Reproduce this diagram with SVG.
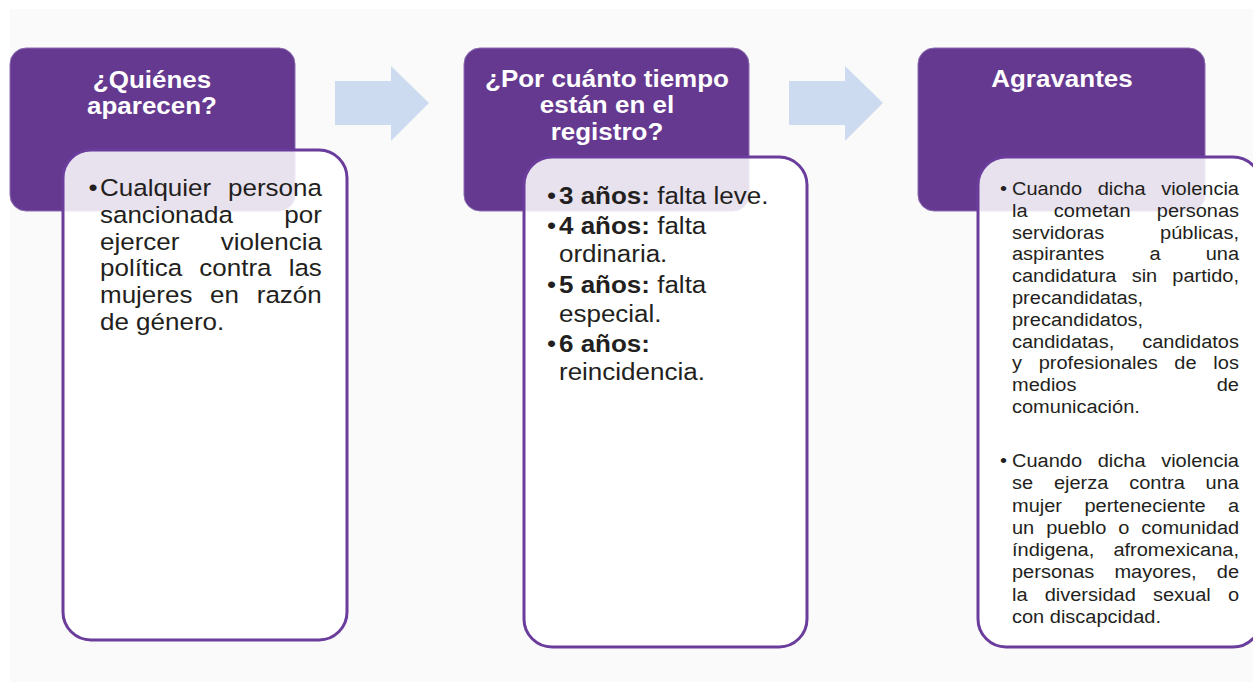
<svg xmlns="http://www.w3.org/2000/svg" width="1253" height="682" viewBox="0 0 1253 682">
<style>
.bg{fill:#fafafa}
.head{fill:#65398f;stroke:#8c6db2;stroke-width:1}
.card{fill:#ffffff;fill-opacity:0.85;stroke:#6a3d9c;stroke-width:3}
.title{font-family:"Liberation Sans",Arial,sans-serif;font-weight:bold;font-size:23px;fill:#ffffff;text-anchor:middle}
.body{font-family:"Liberation Sans",Arial,sans-serif;font-size:23.5px;fill:#231f20}
.body2{font-family:"Liberation Sans",Arial,sans-serif;font-size:24.5px;fill:#231f20}
.small{font-family:"Liberation Sans",Arial,sans-serif;font-size:19px;fill:#231f20}
.b{font-weight:bold}
.arrow{fill:#cddbf0}
</style>
<rect class="bg" x="10" y="9" width="1243" height="673"/>

<g id="connectors">
<polygon class="arrow" points="335,81 391,81 391,66 429,103 391,141 391,125 335,125"/>
<polygon class="arrow" points="789,81 845,81 845,66 883,103 845,141 845,125 789,125"/>
</g>

<g id="node-quienes">
<rect class="head" x="10" y="48" width="285" height="163" rx="16"/>
<g transform="matrix(1.13,0,0,1,-19.76,0)">
<text class="title" x="152" y="88">¿Quiénes</text>
<text class="title" x="152" y="114">aparecen?</text>
</g>
<rect class="card" x="63" y="150" width="284" height="490" rx="28"/>
<g transform="matrix(1.106,0,0,1,-10.6,0)">
<text class="body" x="89.6" y="196" style="word-spacing:8.7px">•<tspan x="100">Cualquier persona</tspan></text>
<text class="body" x="100" y="222.8" style="word-spacing:40px">sancionada por</text>
<text class="body" x="100" y="249.6" style="word-spacing:30.9px">ejercer violencia</text>
<text class="body" x="100" y="276.4" style="word-spacing:8.9px">política contra las</text>
<text class="body" x="100" y="303.2" style="word-spacing:9.5px">mujeres en razón</text>
<text class="body" x="100" y="330">de género.</text>
</g>
</g>

<g id="node-tiempo">
<rect class="head" x="464" y="48" width="285" height="163" rx="16"/>
<g transform="matrix(1.13,0,0,1,-78.91,0)">
<text class="title" x="607" y="87">¿Por cuánto tiempo</text>
<text class="title" x="607" y="113.5">están en el</text>
<text class="title" x="607" y="140">registro?</text>
</g>
<rect class="card" x="524" y="157" width="283" height="490" rx="28"/>
<g transform="matrix(1.061,0,0,1,-34.1,0)">
<text class="body2" x="547.7" y="204">•<tspan x="559" class="b">3 años:</tspan> falta leve.</text>
<text class="body2" x="547.7" y="234">•<tspan x="559" class="b">4 años:</tspan> falta</text>
<text class="body2" x="559" y="262">ordinaria.</text>
<text class="body2" x="547.7" y="293">•<tspan x="559" class="b">5 años:</tspan> falta</text>
<text class="body2" x="559" y="322">especial.</text>
<text class="body2" x="547.7" y="352">•<tspan x="559" class="b">6 años:</tspan></text>
<text class="body2" x="559" y="380">reincidencia.</text>
</g>
</g>

<g id="node-agravantes">
<rect class="head" x="918" y="48" width="287" height="163" rx="16"/>
<g transform="matrix(1.13,0,0,1,-138.06,0)">
<text class="title" x="1062" y="87">Agravantes</text>
</g>
<rect class="card" x="978" y="157" width="283" height="490" rx="28"/>
<g transform="matrix(1.053,0,0,1,-53.64,0)">
<text class="small" x="1000.6" y="195" style="word-spacing:9.6px">•<tspan x="1012">Cuando dicha violencia</tspan></text>
<text class="small" x="1012" y="216.8" style="word-spacing:19.7px">la cometan personas</text>
<text class="small" x="1012" y="238.6" style="word-spacing:47.8px">servidoras públicas,</text>
<text class="small" x="1012" y="260.4" style="word-spacing:37.6px">aspirantes a una</text>
<text class="small" x="1012" y="282.2" style="word-spacing:9.1px">candidatura sin partido,</text>
<text class="small" x="1012" y="304">precandidatas,</text>
<text class="small" x="1012" y="325.8">precandidatos,</text>
<text class="small" x="1012" y="347.6" style="word-spacing:21.3px">candidatas, candidatos</text>
<text class="small" x="1012" y="369.4" style="word-spacing:10.6px">y profesionales de los</text>
<text class="small" x="1012" y="391.2" style="word-spacing:127.9px">medios de</text>
<text class="small" x="1012" y="413">comunicación.</text>
<text class="small" x="1000.6" y="467" style="word-spacing:9.6px">•<tspan x="1012">Cuando dicha violencia</tspan></text>
<text class="small" x="1012" y="489.3" style="word-spacing:14.5px">se ejerza contra una</text>
<text class="small" x="1012" y="511.6" style="word-spacing:16px">mujer perteneciente a</text>
<text class="small" x="1012" y="533.9" style="word-spacing:6.1px">un pueblo o comunidad</text>
<text class="small" x="1012" y="556.2" style="word-spacing:12.9px">índigena, afromexicana,</text>
<text class="small" x="1012" y="578.5" style="word-spacing:13.9px">personas mayores, de</text>
<text class="small" x="1012" y="600.8" style="word-spacing:11px">la diversidad sexual o</text>
<text class="small" x="1012" y="623.1">con discapcidad.</text>
</g>
</g>
</svg>
